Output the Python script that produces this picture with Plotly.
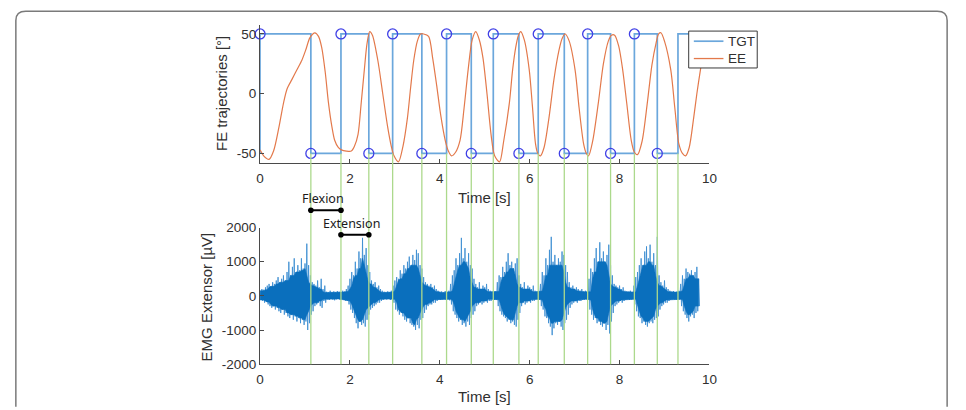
import plotly.graph_objects as go

W, H = 966, 410

# ---------------- data ----------------
# target (TGT) square-wave switch times [s]
tgt_switch_t = [1.13, 1.80, 2.42, 2.95, 3.60, 4.15, 4.70, 5.19,
                5.76, 6.19, 6.77, 7.29, 7.80, 8.33, 8.84, 9.30]
tgt_high, tgt_low = 50, -50
tgt_end_t = 10.0

# target markers (circles)
circle_t = [0.00, 1.13, 1.80, 2.42, 2.95, 3.60, 4.15, 4.70,
            5.19, 5.76, 6.19, 6.77, 7.29, 7.80, 8.33, 8.84]
circle_v = [50, -50, 50, -50, 50, -50, 50, -50,
            50, -50, 50, -50, 50, -50, 50, -50]

# end-effector (EE) trajectory
ee_t = [0.00, 0.08, 0.20, 0.30, 0.42, 0.52, 0.60, 0.71, 0.82, 0.93, 1.02, 1.11,
        1.22, 1.30, 1.37, 1.45, 1.52, 1.60, 1.66, 1.74, 1.81, 1.92, 2.03, 2.10,
        2.18, 2.25, 2.32, 2.38, 2.44, 2.50, 2.62, 2.73, 2.84, 2.92, 2.98, 3.08,
        3.18, 3.28, 3.35, 3.42, 3.50, 3.57, 3.64, 3.75, 3.84, 3.93, 4.02, 4.12,
        4.19, 4.26, 4.35, 4.45, 4.54, 4.63, 4.72, 4.80, 4.88, 4.96, 5.05, 5.14,
        5.22, 5.33, 5.42, 5.55, 5.62, 5.69, 5.75, 5.80, 5.88, 5.99, 6.06, 6.13,
        6.18, 6.24, 6.32, 6.43, 6.54, 6.65, 6.72, 6.79, 6.88, 7.01, 7.10, 7.20,
        7.26, 7.31, 7.40, 7.53, 7.64, 7.75, 7.82, 7.89, 7.98, 8.07, 8.16, 8.26,
        8.33, 8.40, 8.50, 8.62, 8.72, 8.81, 8.87, 8.92, 9.00, 9.14, 9.23, 9.32,
        9.40, 9.47, 9.55, 9.65, 9.72, 9.80, 9.88, 9.95]
ee_v = [-47, -52, -55, -48, -28, -8, 4, 12, 20, 28, 37, 47,
        51, 48, 39, 18, -7, -28, -39, -45, -47, -48, -48, -44,
        -34, -8, 20, 42, 52, 49, 28, 0, -28, -44, -52, -57,
        -44, -20, 5, 28, 44, 50, 50, 48, 30, 7, -18, -39,
        -48, -52, -49, -39, -12, 20, 45, 52, 45, 30, 0, -34,
        -52, -57, -40, -7, 20, 39, 49, 52, 45, 20, -10, -42,
        -50, -52, -45, -20, 12, 36, 46, 50, 44, 20, -12, -42,
        -50, -52, -40, -7, 25, 44, 49, 49, 40, 20, -8, -39,
        -49, -51, -40, -7, 24, 42, 50, 51, 44, 20, -12, -42,
        -50, -52, -45, -20, 0, 20, 38, 47]

# EMG extensor: per-sample upper / lower peak values [uV], sample step 0.04 s
emg_step = 0.04
emg_hi = [
    # burst 1 (0.00-1.44)
    150, 200, 180, 250, 300, 350, 280, 400, 350, 450, 550, 400, 500, 600, 450, 700,
    1000, 600, 850, 1100, 700, 900, 750, 1100, 800, 950, 1530, 900, 600, 400, 350,
    300, 450, 250, 500, 200, 300,
    # rest
    120, 100, 150, 110, 130, 100, 140, 120, 110, 150, 130, 200,
    # burst 2
    300, 500, 700, 600, 1000, 800, 1300, 1100, 1700, 1200, 1400, 900, 700, 450,
    350, 400, 250, 300, 200,
    # rest
    150, 120, 100, 130, 110, 150,
    # burst 3
    300, 450, 550, 500, 750, 650, 900, 800, 1000, 1150, 900, 1200, 1050, 1350,
    1250, 900, 800, 550, 400, 350, 300, 350, 250, 300, 200,
    # rest
    150, 120, 130, 100, 140, 120, 150,
    # burst 4
    350, 600, 750, 1100, 900, 1250, 1700, 1100, 1400, 1000, 1250, 900, 800, 500,
    350, 250, 400, 200, 300, 250, 350, 200, 150,
    # rest
    120, 140, 130,
    # burst 5
    400, 600, 550, 850, 700, 1000, 1250, 900, 1000, 800, 950, 1100, 600, 350,
    250, 400, 200, 300, 250, 200, 300,
    # rest
    150, 120, 140,
    # burst 6
    350, 700, 600, 1100, 900, 1350, 1730, 1000, 1200, 900, 1100, 1000, 1300, 1200,
    900, 700, 400, 250, 300, 200, 250, 200, 150, 200,
    # rest
    130, 150, 120,
    # burst 7
    500, 800, 700, 1100, 1400, 1000, 1570, 1100, 1300, 1000, 1200, 1500, 900, 600,
    350, 300, 250, 300, 200, 250, 150,
    # rest
    130, 120, 150, 110,
    # burst 8
    300, 550, 700, 900, 1100, 900, 1300, 1450, 1100, 1500, 1000, 1250, 900, 1730,
    600, 400, 300, 450, 250, 200, 150,
    # rest
    120, 140, 110, 130, 150,
    # burst 9
    350, 600, 500, 800, 700, 650, 750, 600, 700, 850, 500,
]
emg_lo = [
    # burst 1
    -120, -150, -200, -180, -250, -300, -350, -300, -400, -350, -450, -500, -400, -550,
    -500, -600, -650, -550, -700, -600, -750, -650, -800, -700, -850, -750, -1000, -800,
    -550, -450, -300, -250, -200, -300, -350, -150, -200,
    # rest
    -100, -120, -90, -110, -130, -100, -90, -120, -100, -110, -140, -150,
    # burst 2
    -250, -400, -500, -650, -800, -950, -750, -850, -800, -900, -700, -550, -400, -350,
    -300, -250, -200, -200, -150,
    # rest
    -120, -100, -110, -90, -120, -100,
    # burst 3
    -200, -400, -450, -550, -500, -600, -700, -750, -650, -800, -850, -900, -1000, -850,
    -950, -700, -650, -500, -400, -300, -250, -250, -200, -200, -150,
    # rest
    -110, -120, -100, -90, -120, -100, -130,
    # burst 4
    -250, -450, -550, -650, -750, -700, -850, -800, -900, -750, -850, -650, -550, -450,
    -300, -250, -200, -250, -200, -150, -200, -150, -150,
    # rest
    -100, -120, -110,
    # burst 5
    -300, -450, -550, -600, -650, -750, -700, -800, -750, -850, -900, -700, -500, -300,
    -200, -250, -200, -150, -200, -150, -150,
    # rest
    -110, -100, -120,
    # burst 6
    -300, -400, -600, -650, -800, -900, -1150, -950, -800, -850, -750, -900, -1000, -800,
    -700, -550, -350, -250, -200, -150, -200, -150, -150, -120,
    # rest
    -110, -100, -120,
    # burst 7
    -400, -550, -700, -650, -800, -750, -850, -900, -800, -1000, -850, -1100, -750, -500,
    -300, -250, -200, -150, -200, -150, -120,
    # rest
    -100, -120, -110, -100,
    # burst 8
    -250, -450, -600, -650, -800, -750, -850, -900, -800, -750, -800, -700, -650, -600,
    -400, -300, -250, -200, -200, -150, -120,
    # rest
    -100, -110, -120, -100, -110,
    # burst 9
    -300, -450, -550, -650, -750, -600, -550, -650, -500, -450, -300,
]

# phase annotation bars (bottom-axis units, uV)
flexion_t = [1.13, 1.80]
flexion_level = 2510
extension_t = [1.80, 2.42]
extension_level = 1790

x_ticks = [0, 2, 4, 6, 8, 10]
x_ticktext = ["0", "2", "4", "6", "8", "10"]
top_ticks = [-50, 0, 50]
top_ticktext = ["-50", "0", "50"]
bot_ticks = [-2000, -1000, 0, 1000, 2000]
bot_ticktext = ["-2000", "-1000", "0", "1000", "2000"]
legend_names = ["TGT", "EE"]

# ---------------- layout geometry ----------------
def px_x(p):
    return p / W

def px_y(p):
    return 1 - p / H

x_dom = [px_x(259.3), px_x(714.3)]
top_dom = [px_y(162), px_y(19)]
top_rng = [-58.06, 57.26]
bot_dom = [px_y(370.7), px_y(229)]
bot_rng = [-2000, 2000]

def paper_top(v):
    return top_dom[0] + (v - top_rng[0]) / (top_rng[1] - top_rng[0]) * (top_dom[1] - top_dom[0])

def paper_bot(v):
    return bot_dom[0] + (v - bot_rng[0]) / (bot_rng[1] - bot_rng[0]) * (bot_dom[1] - bot_dom[0])

# ---------------- colours / fonts ----------------
C_TGT = "#6ba7dc"
C_EE = "#e3794b"
C_CIRC = "#3f3fe6"
C_GREEN = "#acd98c"
C_EMG = "#0a6fbd"
C_EMG_SPIKE = "#3f90d2"
C_AX = "#4a4a4a"
C_TXT = "#303030"
FONT = "Liberation Sans, Arial, sans-serif"

fig = go.Figure()

# TGT polyline
tgt_x, tgt_y = [0.0, 0.0], [tgt_low, tgt_high]
cur = tgt_high
for ts in tgt_switch_t:
    nxt = tgt_low if cur == tgt_high else tgt_high
    tgt_x += [ts, ts]
    tgt_y += [cur, nxt]
    cur = nxt
tgt_x.append(tgt_end_t)
tgt_y.append(cur)

fig.add_trace(go.Scatter(x=tgt_x, y=tgt_y, mode="lines", name=legend_names[0], showlegend=False,
                         line=dict(color=C_TGT, width=1.7), xaxis="x", yaxis="y"))
fig.add_trace(go.Scatter(x=ee_t, y=ee_v, mode="lines", name=legend_names[1], showlegend=False,
                         line=dict(color=C_EE, width=1.2, shape="spline", smoothing=0.8),
                         xaxis="x", yaxis="y"))
fig.add_trace(go.Scatter(x=circle_t, y=circle_v, mode="markers", showlegend=False,
                         marker=dict(symbol="circle-open", size=10,
                                     line=dict(color=C_CIRC, width=1.3), color=C_CIRC),
                         cliponaxis=False, xaxis="x", yaxis="y"))

# EMG: zig-zag through per-sample peaks (spikes), dense core drawn on top
emg_t = [i * emg_step for i in range(len(emg_hi))]
emg_x, emg_y = [], []
for t, hi, lo in zip(emg_t, emg_hi, emg_lo):
    emg_x += [t, t + emg_step / 2]
    emg_y += [hi, lo]
fig.add_trace(go.Scatter(x=emg_x, y=emg_y, mode="lines", showlegend=False,
                         line=dict(color=C_EMG_SPIKE, width=0.9, simplify=False),
                         xaxis="x2", yaxis="y2"))

n = len(emg_hi)
core_hi = [min(emg_hi[max(i - 2, 0):i + 3]) for i in range(n)]
core_lo = [max(emg_lo[max(i - 2, 0):i + 3]) for i in range(n)]
fig.add_trace(go.Scatter(x=emg_t + emg_t[::-1], y=core_hi + core_lo[::-1], mode="lines",
                         fill="toself", fillcolor=C_EMG, line=dict(width=0.6, color=C_EMG),
                         showlegend=False, hoverinfo="skip", xaxis="x2", yaxis="y2"))

shapes = []
# green switch lines spanning both panels
for ts in tgt_switch_t:
    shapes.append(dict(type="line", xref="x2", yref="paper", x0=ts, x1=ts,
                       y0=paper_bot(bot_rng[0]), y1=paper_top(tgt_low),
                       line=dict(color=C_GREEN, width=1.3), layer="above"))

# phase bars
annotations = []
for (ta, tb), lvl, label in [(flexion_t, flexion_level, "Flexion"),
                             (extension_t, extension_level, "Extension")]:
    yp = paper_bot(lvl)
    shapes.append(dict(type="line", xref="x2", yref="paper", x0=ta, x1=tb, y0=yp, y1=yp,
                       line=dict(color="black", width=2), layer="above"))
    for tt in (ta, tb):
        shapes.append(dict(type="circle", xref="x2", yref="paper",
                           xsizemode="pixel", ysizemode="pixel", xanchor=tt, yanchor=yp,
                           x0=-2.8, x1=2.8, y0=-2.8, y1=2.8,
                           fillcolor="black", line=dict(color="black", width=0),
                           layer="above"))
    annotations.append(dict(x=(ta + tb) / 2 - 0.07, y=yp, xref="x2", yref="paper",
                            text=label, showarrow=False, yanchor="bottom", yshift=1,
                            font=dict(family="Noto Sans, sans-serif", size=12.5, color="#1a1a1a")))

# legend (drawn as a framed box)
shapes.append(dict(type="rect", xref="paper", yref="paper",
                   x0=px_x(693.3), x1=px_x(762.7), y0=px_y(63.3), y1=px_y(25),
                   fillcolor="white", line=dict(color="#3a3a3a", width=1), layer="above"))
for name, col, yy in [(legend_names[0], C_TGT, 35.5), (legend_names[1], C_EE, 53.5)]:
    shapes.append(dict(type="line", xref="paper", yref="paper",
                       x0=px_x(698.5), x1=px_x(728.5), y0=px_y(yy), y1=px_y(yy),
                       line=dict(color=col, width=1.7 if name == "TGT" else 1.3), layer="above"))
    annotations.append(dict(x=px_x(731.5), y=px_y(yy), xref="paper", yref="paper", text=name,
                            showarrow=False, xanchor="left", yanchor="middle",
                            font=dict(family=FONT, size=13.5, color=C_TXT)))

# page border (rounded frame)
bx0, bx1, by0 = px_x(12), px_x(955), px_y(4.5)
shapes.append(dict(type="path", xref="paper", yref="paper",
                   path=f"M {bx0},{px_y(415)} L {bx0},{px_y(14)} Q {bx0},{by0} {px_x(22)},{by0} "
                        f"L {px_x(945)},{by0} Q {bx1},{by0} {bx1},{px_y(14)} L {bx1},{px_y(415)}",
                   line=dict(color="#7a7a7a", width=1.5)))

# axis titles
annotations += [
    dict(x=px_x(220), y=px_y(90), xref="paper", yref="paper", text="FE trajectories [°]",
         textangle=-90, showarrow=False, xanchor="center", yanchor="middle",
         font=dict(family=FONT, size=15, color=C_TXT)),
    dict(x=px_x(206), y=px_y(301), xref="paper", yref="paper", text="EMG Extensor [µV]",
         textangle=-90, showarrow=False, xanchor="center", yanchor="middle",
         font=dict(family=FONT, size=15, color=C_TXT)),
    dict(x=px_x(486.5), y=px_y(198), xref="paper", yref="paper", text="Time [s]",
         showarrow=False, xanchor="center", yanchor="middle",
         font=dict(family=FONT, size=15, color=C_TXT)),
    dict(x=px_x(486.5), y=px_y(404), xref="paper", yref="paper", text="Time [s]",
         showarrow=False, xanchor="center", yanchor="middle",
         font=dict(family=FONT, size=15, color=C_TXT)),
]

axis_common = dict(showgrid=False, zeroline=False, showline=True, linecolor=C_AX, linewidth=1,
                   ticks="inside", ticklen=4, tickcolor=C_AX, tickwidth=1, mirror=False,
                   tickfont=dict(family=FONT, size=13.5, color=C_TXT))

fig.update_layout(
    width=W, height=H, autosize=False,
    margin=dict(l=0, r=0, t=0, b=0, pad=0),
    paper_bgcolor="white", plot_bgcolor="white",
    xaxis=dict(domain=x_dom, range=[0, 10], anchor="y", tickvals=x_ticks, ticktext=x_ticktext,
               ticklabelstandoff=3, **axis_common),
    yaxis=dict(domain=top_dom, range=top_rng, anchor="x", tickvals=top_ticks,
               ticktext=top_ticktext, **axis_common),
    xaxis2=dict(domain=x_dom, range=[0, 10], anchor="y2", tickvals=x_ticks, ticktext=x_ticktext,
                ticklabelstandoff=3, **axis_common),
    yaxis2=dict(domain=bot_dom, range=bot_rng, anchor="x2", tickvals=bot_ticks,
                ticktext=bot_ticktext, **axis_common),
    showlegend=False,
    shapes=shapes, annotations=annotations,
)

fig.write_html("out.html")
